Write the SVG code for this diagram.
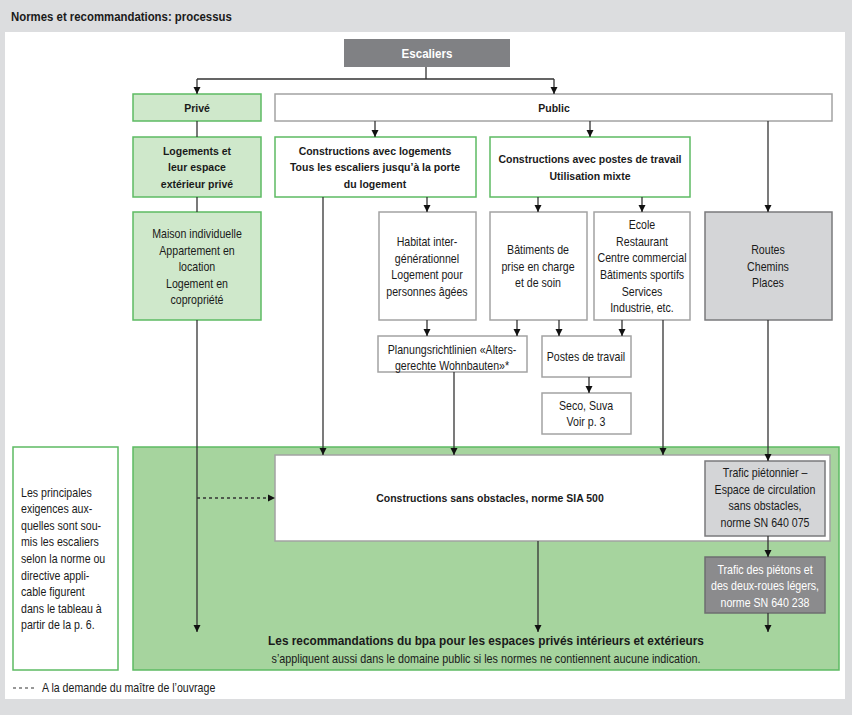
<svg xmlns="http://www.w3.org/2000/svg" width="852" height="715" viewBox="0 0 852 715">
<defs>
<marker id="ah" viewBox="0 0 8 8" refX="8" refY="4" markerWidth="7" markerHeight="8" markerUnits="userSpaceOnUse" orient="auto">
<path d="M0,0 L8,4 L0,8 z" fill="#111"/>
</marker>
<style>
text{font-family:"Liberation Sans",Arial,sans-serif;font-size:12.2px;fill:#1a1a1a;text-anchor:middle;transform-box:fill-box;transform-origin:center;transform:scaleX(0.87)}
.b{font-weight:bold;font-size:11.8px;transform:scaleX(0.89)}
.w{fill:#fff}
.l{text-anchor:start;transform-origin:left center}
.green{fill:#cfe8cb;stroke:#5dbb63;stroke-width:1.5}
.gw{fill:#fff;stroke:#5dbb63;stroke-width:1.5}
.wb{fill:#fff;stroke:#a3a3a3;stroke-width:1.5}
.lg{fill:#d4d5d7;stroke:#7a7a7c;stroke-width:1.5}
.dg{fill:#8b8b8d;stroke:#6e6e70;stroke-width:1.5}
.c{fill:none;stroke:#333;stroke-width:1.3}
.a{marker-end:url(#ah)}
</style>
</defs>
<rect x="0" y="0" width="852" height="715" fill="#dcdddf"/>
<rect x="5" y="32" width="840" height="667" fill="#fff"/>
<text class="b l" x="11" y="21" style="font-size:12.8px">Normes et recommandations: processus</text>

<g id="big-green"><rect x="133" y="447" width="706" height="223" fill="#a6d49e" stroke="#5dbb63" stroke-width="1.5"/>
<text class="b" x="486" y="645" style="font-size:13.3px">Les recommandations du bpa pour les espaces privés intérieurs et extérieurs</text>
<text x="486" y="663" style="font-size:12.4px">s’appliquent aussi dans le domaine public si les normes ne contiennent aucune indication.</text></g>

<g id="escaliers"><rect x="344" y="39" width="166" height="28" fill="#808184"/>
<text class="b w" x="427" y="58" style="font-size:13px">Escaliers</text></g>

<g id="prive"><rect class="green" x="133" y="94" width="128" height="27"/>
<text class="b" x="197" y="112">Privé</text></g>

<g id="public"><rect class="wb" x="275" y="94" width="557" height="27"/>
<text class="b" x="554" y="112">Public</text></g>

<g id="logements"><rect class="green" x="133" y="137" width="128" height="60"/>
<text class="b" x="197" y="155">Logements et</text>
<text class="b" x="197" y="171">leur espace</text>
<text class="b" x="197" y="188">extérieur privé</text></g>

<g id="maison"><rect class="green" x="133" y="212" width="128" height="108"/>
<text x="197" y="238">Maison individuelle</text>
<text x="197" y="255">Appartement en</text>
<text x="197" y="271">location</text>
<text x="197" y="288">Logement en</text>
<text x="197" y="304">copropriété</text></g>

<g id="constr-logements"><rect class="gw" x="275" y="137" width="201" height="60"/>
<text class="b" x="375" y="155">Constructions avec logements</text>
<text class="b" x="375" y="171">Tous les escaliers jusqu’à la porte</text>
<text class="b" x="375" y="188">du logement</text></g>

<g id="constr-postes"><rect class="gw" x="490" y="137" width="200" height="60"/>
<text class="b" x="590" y="163">Constructions avec postes de travail</text>
<text class="b" x="590" y="180">Utilisation mixte</text></g>

<g id="habitat"><rect class="wb" x="379" y="212" width="97" height="108"/>
<text x="427" y="246">Habitat inter-</text>
<text x="427" y="263">générationnel</text>
<text x="427" y="279">Logement pour</text>
<text x="427" y="296">personnes âgées</text></g>

<g id="batiments"><rect class="wb" x="490" y="212" width="97" height="108"/>
<text x="538" y="254">Bâtiments de</text>
<text x="538" y="271">prise en charge</text>
<text x="538" y="287">et de soin</text></g>

<g id="ecole"><rect class="wb" x="594" y="212" width="96" height="108"/>
<text x="642" y="229">Ecole</text>
<text x="642" y="246">Restaurant</text>
<text x="642" y="262">Centre commercial</text>
<text x="642" y="279">Bâtiments sportifs</text>
<text x="642" y="296">Services</text>
<text x="642" y="312">Industrie, etc.</text></g>

<g id="routes"><rect class="lg" x="705" y="212" width="127" height="108"/>
<text x="768" y="254">Routes</text>
<text x="768" y="271">Chemins</text>
<text x="768" y="287">Places</text></g>

<g id="planungs"><rect class="wb" x="378" y="336" width="149" height="36"/>
<text x="452" y="354">Planungsrichtlinien «Alters-</text>
<text x="452" y="370">gerechte Wohnbauten»*</text></g>

<g id="postes"><rect class="wb" x="542" y="336" width="89" height="41"/>
<text x="586" y="361">Postes de travail</text></g>

<g id="seco"><rect class="wb" x="542" y="393" width="89" height="41"/>
<text x="586" y="410">Seco, Suva</text>
<text x="586" y="426">Voir p. 3</text></g>

<g id="sia500"><rect class="wb" x="275" y="455" width="555" height="86"/>
<text class="b" x="490" y="502">Constructions sans obstacles, norme SIA 500</text></g>

<g id="trafic-pietonnier"><rect class="lg" x="705" y="461" width="120" height="75"/>
<text x="765" y="477">Trafic piétonnier –</text>
<text x="765" y="494">Espace de circulation</text>
<text x="765" y="510">sans obstacles,</text>
<text x="765" y="527">norme SN 640 075</text></g>

<g id="trafic-pietons"><rect class="dg" x="705" y="557" width="120" height="56"/>
<text class="w" x="765" y="574">Trafic des piétons et</text>
<text class="w" x="765" y="590">des deux-roues légers,</text>
<text class="w" x="765" y="607">norme SN 640 238</text></g>

<g id="note"><rect class="gw" x="13" y="447" width="105" height="223"/>
<text class="l" x="21" y="497">Les principales</text>
<text class="l" x="21" y="513">exigences aux-</text>
<text class="l" x="21" y="530">quelles sont sou-</text>
<text class="l" x="21" y="546">mis les escaliers</text>
<text class="l" x="21" y="563">selon la norme ou</text>
<text class="l" x="21" y="580">directive appli-</text>
<text class="l" x="21" y="596">cable figurent</text>
<text class="l" x="21" y="613">dans le tableau à</text>
<text class="l" x="21" y="629">partir de la p. 6.</text></g>

<g id="legend"><path d="M13,688 H34" stroke="#333" stroke-width="1.2" stroke-dasharray="3,3"/>
<text class="l" x="42" y="692">A la demande du maître de l’ouvrage</text></g>

<g id="connectors">
<path class="c" d="M426,67 V79 M197,79 H554"/>
<path class="c a" d="M197,79 V94"/>
<path class="c a" d="M554,79 V94"/>
<path class="c" d="M197,121 V137 M197,197 V212"/>
<path class="c a" d="M197,320 V632"/>
<path class="c a" d="M375,121 V137"/>
<path class="c a" d="M590,121 V137"/>
<path class="c a" d="M768,121 V212"/>
<path class="c a" d="M427,197 V212"/>
<path class="c a" d="M323,197 V455"/>
<path class="c a" d="M538,197 V212"/>
<path class="c a" d="M642,197 V212"/>
<path class="c a" d="M427,320 V336"/>
<path class="c a" d="M517,320 V336"/>
<path class="c a" d="M559,320 V336"/>
<path class="c a" d="M622,320 V336"/>
<path class="c a" d="M663,320 V455"/>
<path class="c a" d="M454,372 V455"/>
<path class="c a" d="M589,377 V393"/>
<path class="c a" d="M768,320 V461"/>
<path class="c a" d="M768,536 V557"/>
<path class="c a" d="M768,613 V632"/>
<path class="c a" d="M538,541 V632"/>
<path class="c a" d="M197,498 H275" stroke-dasharray="3,3"/>
</g>
</svg>
